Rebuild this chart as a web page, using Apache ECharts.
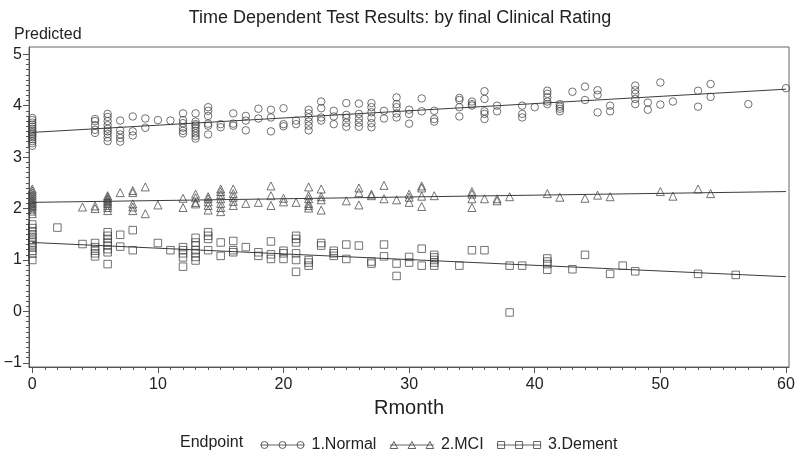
<!DOCTYPE html>
<html>
<head>
<meta charset="utf-8">
<script src="https://cdn.jsdelivr.net/npm/echarts@6/dist/echarts.min.js"></script>
<style>html,body{margin:0;padding:0;background:#fff}#c{width:800px;height:458px}</style>
</head>
<body>
<div id="c"></div>
<script>
// ---- data ----
const seriesNames = ['1.Normal', '2.MCI', '3.Dement'];

const normalMonths = [0,5,6,7,8,9,10,11,12,13,14,15,16,17,18,19,20,21,22,23,24,25,26,27,28,29,30,31,32,34,35,36,37,39,40,41,42,43,44,45,46,48,49,50,51,53,54,57,60];
const normalValues = [
  [3.22,3.27,3.31,3.35,3.39,3.42,3.45,3.48,3.51,3.55,3.59,3.63,3.67,3.72,3.76],
  [3.74,3.70,3.62,3.53,3.47],
  [3.84,3.78,3.70,3.62,3.55,3.50,3.45,3.38,3.31],
  [3.71,3.52,3.44,3.37,3.30],
  [3.79,3.50,3.42],
  [3.75,3.57],
  [3.72],
  [3.71],
  [3.85,3.72,3.66,3.57,3.51,3.46],
  [3.85,3.69,3.64,3.61,3.56,3.51,3.46,3.41,3.36],
  [3.97,3.90,3.80,3.65,3.61,3.44],
  [3.64,3.58],
  [3.85,3.65,3.61],
  [3.80,3.71,3.52],
  [3.94,3.75],
  [3.92,3.77,3.50],
  [3.95,3.64,3.60],
  [3.71,3.64],
  [3.92,3.85,3.77,3.69,3.61,3.52],
  [4.08,3.95,3.77,3.71],
  [3.90,3.79,3.64],
  [4.05,3.82,3.76,3.67,3.59],
  [4.04,3.84,3.75,3.67,3.59],
  [4.05,3.97,3.87,3.76,3.66,3.58],
  [3.90,3.75],
  [4.16,4.03,3.97,3.85,3.77],
  [3.92,3.84,3.65],
  [4.14,3.89],
  [3.90,3.74,3.69],
  [4.15,4.11,3.97,3.79],
  [4.08,4.03,4.00],
  [4.28,4.13,3.89,3.84,3.74],
  [4.00,3.89],
  [4.00,3.84,3.77],
  [3.97],
  [4.29,4.23,4.16,4.08,4.03],
  [4.03,3.98,3.94,3.89],
  [4.27],
  [4.37,4.11],
  [4.30,4.21,3.87],
  [4.00,3.89],
  [4.39,4.30,4.23,4.13,4.03],
  [4.06,3.92],
  [4.45,4.02],
  [4.08],
  [4.29,3.98],
  [4.42,4.17],
  [4.03],
  [4.34]
];

const mciMonths = [0,4,5,6,7,8,9,10,12,13,14,15,16,17,18,19,20,21,22,23,25,26,27,28,29,30,31,32,35,36,37,38,41,42,44,45,46,50,51,53,54];
const mciValues = [
  [1.90,1.95,1.99,2.03,2.06,2.09,2.12,2.15,2.18,2.22,2.26,2.30,2.34,2.38],
  [2.03],
  [2.05,2.00],
  [1.96,2.02,2.06,2.10,2.13,2.16,2.19,2.22,2.25],
  [2.31],
  [2.35,2.31,2.09,2.03,1.96],
  [2.42,1.90],
  [2.07],
  [2.20,2.02],
  [2.28,2.21,2.12,2.09],
  [2.23,2.19,2.13,2.06,1.97],
  [2.38,2.33,2.27,2.19,2.10,2.02,1.94],
  [2.38,2.29,2.22,2.14,2.06],
  [2.10],
  [2.12],
  [2.44,2.25,2.06],
  [2.20,2.13],
  [2.12],
  [2.42,2.25,2.19,2.10,2.06,2.01],
  [2.38,2.23,2.17,1.97],
  [2.15],
  [2.40,2.31,2.07],
  [2.28,2.25],
  [2.45,2.19],
  [2.17],
  [2.28,2.22,2.12],
  [2.44,2.40,2.24,2.04],
  [2.25],
  [2.33,2.28,2.19,2.02],
  [2.19],
  [2.19,2.15],
  [2.23],
  [2.29],
  [2.22],
  [2.20],
  [2.26],
  [2.23],
  [2.33],
  [2.24],
  [2.38],
  [2.29]
];

const dementMonths = [0,2,4,5,6,7,8,10,11,12,13,14,15,16,17,18,19,20,21,22,23,24,25,26,27,28,29,30,31,32,34,35,36,38,39,41,43,44,46,47,48,53,56];
const dementValues = [
  [1.00,1.12,1.18,1.24,1.29,1.34,1.39,1.44,1.50,1.56,1.62,1.69],
  [1.63],
  [1.31],
  [1.33,1.25,1.18,1.13,1.07],
  [1.54,1.47,1.41,1.34,1.28,1.21,1.15,0.92],
  [1.49,1.26],
  [1.58,1.19],
  [1.33],
  [1.19],
  [1.25,1.19,1.13,1.05,0.87],
  [1.43,1.34,1.28,1.19,1.13,1.06,0.99],
  [1.54,1.47,1.41,1.19],
  [1.34,1.08],
  [1.37,1.19,1.15],
  [1.25],
  [1.15,1.08],
  [1.36,1.11,1.02],
  [1.18,1.13,1.02],
  [1.47,1.41,1.34,1.13,1.00,0.77],
  [1.00,0.95,0.89],
  [1.33,1.28],
  [1.18,1.13,1.08],
  [1.30,1.02],
  [1.28],
  [0.97,0.93],
  [1.30,1.07],
  [0.93,0.69],
  [1.06,0.95],
  [1.22,0.89],
  [1.10,1.05,1.00,0.95,0.89],
  [0.89],
  [1.19],
  [1.19],
  [0.89,-0.02],
  [0.89],
  [1.03,0.97,0.92,0.81],
  [0.82],
  [1.10],
  [0.73],
  [0.89],
  [0.78],
  [0.73],
  [0.71]
];

// fitted lines (value at month 0 and month 60)
const fitMonths = [0, 60];
const normalFit = [3.48, 4.32];
const mciFit = [2.12, 2.33];
const dementFit = [1.34, 0.675];

// tick labels
const xTickLabels = [0, 10, 20, 30, 40, 50, 60];
const yTickLabels = [-1, 0, 1, 2, 3, 4, 5];

// ---- build ----
function flatten(months, values) {
  const out = [];
  months.forEach((m, i) => values[i].forEach(v => out.push([m, v])));
  return out;
}
function fitLine(vals) { return fitMonths.map((m, i) => [m, vals[i]]); }

const xMinor = []; for (let i = 0; i <= 60; i++) xMinor.push(i);
const yMinor = []; for (let i = -10; i <= 50; i++) yMinor.push(i / 10);

const ink = '#3c3c3c';
const axisColor = '#555';
const FONT = 'Liberation Sans, Arial, sans-serif';
const XMIN = -0.26, XMAX = 60.24, YMIN = -1.08, YMAX = 5.14;

const markerStyle = { color: 'rgba(0,0,0,0)', borderColor: ink, borderWidth: 0.9 };

const circ = (cx) => `M${cx+3.5},4 A3.5,3.5 0 1 1 ${cx-3.5},4 A3.5,3.5 0 1 1 ${cx+3.5},4 Z`;
const tri = (cx) => `M${cx},0.5 L${cx+3.8},7.5 L${cx-3.8},7.5 Z`;
const sq = (cx) => `M${cx-3.5},0.5 L${cx+3.5},0.5 L${cx+3.5},7.5 L${cx-3.5},7.5 Z`;
const iconPath = (f) => 'path://M0,4 L44,4 ' + f(4) + ' ' + f(22) + ' ' + f(40);

const chart = echarts.init(document.getElementById('c'), null, { renderer: 'canvas' });
chart.setOption({
  animation: false,
  backgroundColor: '#fff',
  textStyle: { fontFamily: FONT, color: '#222' },
  title: [
    { text: 'Time Dependent Test Results: by final Clinical Rating', left: 'center', top: 4,
      textStyle: { fontSize: 18, fontWeight: 'normal', color: '#222', fontFamily: FONT } },
    { text: 'Predicted', left: 9, top: 22,
      textStyle: { fontSize: 16, fontWeight: 'normal', color: '#222', fontFamily: FONT } },
    { text: 'Endpoint', left: 175, top: 430,
      textStyle: { fontSize: 16, fontWeight: 'normal', color: '#222', fontFamily: FONT } }
  ],
  legend: {
    left: 255, top: 432, itemWidth: 44, itemHeight: 8, itemGap: 13,
    textStyle: { fontSize: 16, color: '#222', fontFamily: FONT, padding: [0, 0, 0, 2] },
    itemStyle: { color: 'rgba(0,0,0,0)', borderColor: ink, borderWidth: 1 },
    data: [
      { name: seriesNames[0], icon: iconPath(circ) },
      { name: seriesNames[1], icon: iconPath(tri) },
      { name: seriesNames[2], icon: iconPath(sq) }
    ]
  },
  grid: { left: 29, right: 11, top: 47, bottom: 91, show: true, borderColor: '#666', borderWidth: 1, backgroundColor: 'transparent' },
  xAxis: [
    { type: 'value', min: XMIN, max: XMAX, position: 'bottom',
      name: 'Rmonth', nameLocation: 'middle', nameGap: 31,
      nameTextStyle: { fontSize: 20, color: '#222', fontFamily: FONT },
      axisLine: { show: true, onZero: false, lineStyle: { color: axisColor } },
      axisTick: { show: true, customValues: xTickLabels, length: 6, lineStyle: { color: axisColor } },
      axisLabel: { customValues: xTickLabels, fontSize: 16, margin: 10, color: '#222', fontFamily: FONT },
      splitLine: { show: false } },
    { type: 'value', min: XMIN, max: XMAX, position: 'bottom', offset: 0,
      axisLine: { show: false, onZero: false },
      axisTick: { show: true, customValues: xMinor, length: 3, lineStyle: { color: axisColor } },
      axisLabel: { show: false }, splitLine: { show: false } }
  ],
  yAxis: [
    { type: 'value', min: YMIN, max: YMAX, position: 'left',
      axisLine: { show: true, onZero: false, lineStyle: { color: axisColor } },
      axisTick: { show: true, customValues: yTickLabels, length: 6, lineStyle: { color: axisColor } },
      axisLabel: { customValues: yTickLabels, fontSize: 16, margin: 7, color: '#222', fontFamily: FONT,
        formatter: v => String(v).replace('-', '\u2212') },
      splitLine: { show: false } },
    { type: 'value', min: YMIN, max: YMAX, position: 'left', offset: 0,
      axisLine: { show: false, onZero: false },
      axisTick: { show: true, customValues: yMinor, length: 3, lineStyle: { color: axisColor } },
      axisLabel: { show: false }, splitLine: { show: false } }
  ],
  series: [
    { name: seriesNames[0], type: 'scatter', symbol: 'circle', symbolSize: 7.5, itemStyle: markerStyle, data: flatten(normalMonths, normalValues), z: 3 },
    { name: seriesNames[1], type: 'scatter', symbol: 'triangle', symbolSize: 8, itemStyle: markerStyle, data: flatten(mciMonths, mciValues), z: 3 },
    { name: seriesNames[2], type: 'scatter', symbol: 'rect', symbolSize: 7.5, itemStyle: markerStyle, data: flatten(dementMonths, dementValues), z: 3 },
    { name: 'fitN', type: 'line', data: fitLine(normalFit), symbol: 'none', lineStyle: { color: ink, width: 1 }, silent: true, z: 2 },
    { name: 'fitM', type: 'line', data: fitLine(mciFit), symbol: 'none', lineStyle: { color: ink, width: 1 }, silent: true, z: 2 },
    { name: 'fitD', type: 'line', data: fitLine(dementFit), symbol: 'none', lineStyle: { color: ink, width: 1 }, silent: true, z: 2 }
  ]
});
</script>
</body>
</html>
